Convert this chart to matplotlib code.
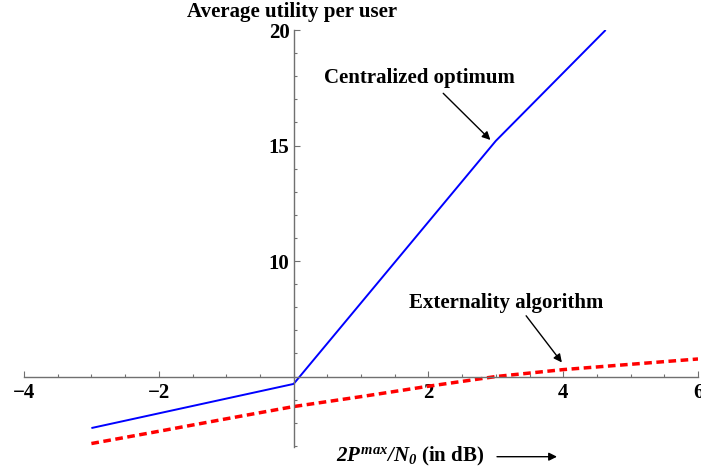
import matplotlib
matplotlib.use('Agg')
import matplotlib.pyplot as plt
from matplotlib.ticker import MultipleLocator, FixedLocator

plt.rcParams['font.family'] = ['Liberation Serif', 'DejaVu Serif']
plt.rcParams['font.weight'] = 'bold'
plt.rcParams['mathtext.fontset'] = 'custom'
plt.rcParams['mathtext.it'] = 'Liberation Serif:italic:bold'
plt.rcParams['mathtext.rm'] = 'Liberation Serif:italic:bold'

# Data
x_central = [-3, 0, 3, 4.63]
y_central = [2.77, 4.68, 15.2, 20.0]

x_extern = [-3, -2, -1, 0, 1, 2, 3, 4, 5, 6]
y_extern = [2.10, 2.63, 3.17, 3.70, 4.13, 4.58, 5.00, 5.30, 5.53, 5.76]

x_ticks = [-4, -2, 2, 4, 6]
y_ticks = [10, 15, 20]

fs = 15

fig = plt.figure(figsize=(7.01, 4.70), dpi=100)
ax = fig.add_axes([24 / 701, 23 / 470, 674 / 701, 417 / 470])

ax.plot(x_central, y_central, color='#0000ff', lw=1.4, solid_capstyle='butt')
ax.plot(x_extern, y_extern, color='#ff0000', lw=2.5, dashes=(2.2, 1.3))

ax.set_xlim(-4, 6)
ax.set_ylim(1.95, 20)

# Mathematica-style axes crossing at (0, 5)
axis_grey = '#707070'
for side in ['top', 'right']:
    ax.spines[side].set_visible(False)
ax.spines['left'].set_position(('data', 0))
ax.spines['bottom'].set_position(('data', 5))
ax.spines['left'].set_color(axis_grey)
ax.spines['bottom'].set_color(axis_grey)
ax.spines['left'].set_linewidth(1.0)
ax.spines['bottom'].set_linewidth(1.0)

ax.xaxis.set_major_locator(FixedLocator(x_ticks))
ax.yaxis.set_major_locator(FixedLocator(y_ticks))
ax.xaxis.set_minor_locator(MultipleLocator(0.5))
ax.yaxis.set_minor_locator(MultipleLocator(1))
ax.tick_params(which='both', direction='in', color=axis_grey, width=0.8)
ax.tick_params(which='major', length=4.5, labelsize=fs)
ax.tick_params(which='minor', length=2.5)
ax.tick_params(axis='x', which='major', pad=5)
ax.tick_params(axis='y', which='major', pad=3)
for lbl in ax.get_xticklabels() + ax.get_yticklabels():
    lbl.set_fontweight('bold')

# Annotations
ax.text(1.87, 17.92, 'Centralized optimum', ha='center', va='center',
        fontsize=fs, fontweight='bold')
ax.annotate('', xy=(2.92, 15.24), xytext=(2.22, 17.26),
            arrowprops=dict(arrowstyle='-|>', color='black', lw=1.0,
                            mutation_scale=12, shrinkA=0, shrinkB=0))
ax.text(3.16, 8.19, 'Externality algorithm', ha='center', va='center',
        fontsize=fs, fontweight='bold')
ax.annotate('', xy=(3.98, 5.61), xytext=(3.45, 7.63),
            arrowprops=dict(arrowstyle='-|>', color='black', lw=1.0,
                            mutation_scale=12, shrinkA=0, shrinkB=0))

# Axis labels
fig.text(292.5 / 701, 1 - 12.5 / 470, 'Average utility per user',
         ha='center', va='center', fontsize=fs, fontweight='bold')
fig.text(410 / 701, 1 - 456 / 470, r'$2P^{max}/N_0$ (in dB)',
         ha='center', va='center', fontsize=fs, fontweight='bold')
ax.annotate('', xy=(557, 470 - 456.7), xytext=(497, 470 - 456.7),
            xycoords='figure pixels', textcoords='figure pixels',
            arrowprops=dict(arrowstyle='-|>', color='black', lw=1.0,
                            mutation_scale=12, shrinkA=0, shrinkB=0))

fig.savefig('out.png', dpi=100)
